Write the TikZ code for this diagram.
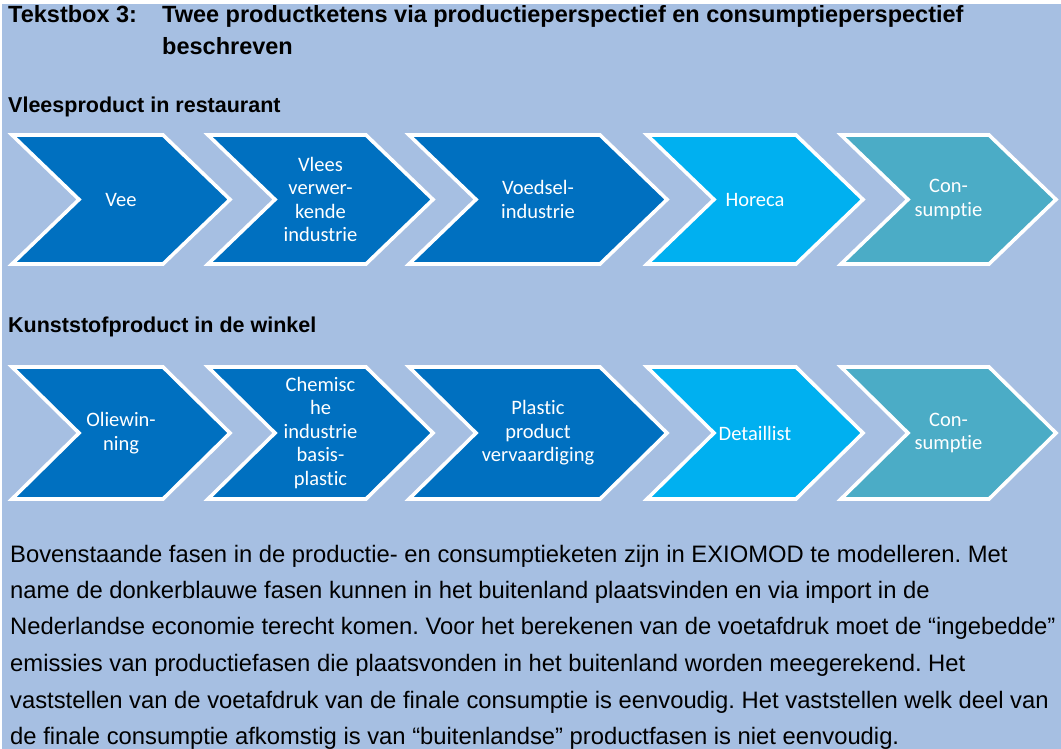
\documentclass[tikz,border=0pt]{standalone}
\usepackage{fontspec}
\setmainfont{Liberation Sans}
\newfontfamily\calfont[Ligatures=NoCommon]{Carlito}
\definecolor{bgblue}{RGB}{166,191,226}
\definecolor{dblue}{RGB}{0,112,192}
\definecolor{lblue}{RGB}{0,176,240}
\definecolor{cteal}{RGB}{75,172,198}
\frenchspacing
\tikzset{
  chevbox/.style={draw=white, line width=3.6pt, line join=miter, miter limit=10},
  chevtext/.style={text=white, align=center, inner sep=0pt,
    font=\calfont\fontsize{20.5}{23.5}\selectfont},
  title/.style={anchor=base west, inner sep=0pt, font=\bfseries\fontsize{23.5}{28}\selectfont},
  heading/.style={anchor=base west, inner sep=0pt, font=\bfseries\fontsize{21.5}{25}\selectfont},
  bodyline/.style={anchor=base west, inner sep=0pt, font=\fontsize{23.8}{28}\selectfont},
}
\newcommand{\mychev}[7]{%
  \path[chevbox, fill=#6] (#2,#4) -- ({#3-67},#4) -- (#3,{(#4+#5)/2}) -- ({#3-67},#5) -- (#2,#5) -- ({#2+67},{(#4+#5)/2}) -- cycle;
  \node[chevtext] (#1) at ({(#2+#3)/2},{(#4+#5)/2}) {#7};
}
\begin{document}
\begin{tikzpicture}[x=1pt,y=-1pt]
  \useasboundingbox (0,0) rectangle (1061,749);
  \fill[white] (0,0) rectangle (1061,749);
  \fill[bgblue] (2,4) rectangle (1061,749);
  % title
  \node[title] (t1) at (8,23) {Tekstbox 3:};
  \node[title] (t2) at (162,23) {Twee productketens via productieperspectief en consumptieperspectief};
  \node[title] (t3) at (162,55) {beschreven};
  \node[heading] (h1) at (8,113) {Vleesproduct in restaurant};
  \node[heading] (h2) at (8,332) {Kunststofproduct in de winkel};
  % row 1
  \mychev{a1}{12}{230}{135}{264}{dblue}{Vee}
  \mychev{a2}{208}{433}{135}{264}{dblue}{Vlees\\verwer-\\kende\\industrie}
  \mychev{a3}{409}{667}{135}{264}{dblue}{Voedsel-\\industrie}
  \mychev{a4}{647}{863}{135}{264}{lblue}{Horeca}
  \mychev{a5}{841}{1056}{135}{264}{cteal}{Con-\\sumptie}
  % row 2
  \mychev{b1}{12}{230}{367}{499}{dblue}{Oliewin-\\ning}
  \mychev{b2}{208}{433}{367}{499}{dblue}{Chemisc\\he\\industrie\\basis-\\plastic}
  \mychev{b3}{409}{667}{367}{499}{dblue}{Plastic\\product\\vervaardiging}
  \mychev{b4}{647}{863}{367}{499}{lblue}{Detaillist}
  \mychev{b5}{841}{1056}{367}{499}{cteal}{Con-\\sumptie}
  % paragraph
  \node[bodyline] (p1) at (10,562) {Bovenstaande fasen in de productie- en consumptieketen zijn in EXIOMOD te modelleren. Met};
  \node[bodyline] (p2) at (10,598) {name de donkerblauwe fasen kunnen in het buitenland plaatsvinden en via import in de};
  \node[bodyline] (p3) at (10,634) {Nederlandse economie terecht komen. Voor het berekenen van de voetafdruk moet de “ingebedde”};
  \node[bodyline] (p4) at (10,671) {emissies van productiefasen die plaatsvonden in het buitenland worden meegerekend. Het};
  \node[bodyline] (p5) at (10,708) {vaststellen van de voetafdruk van de finale consumptie is eenvoudig. Het vaststellen welk deel van};
  \node[bodyline] (p6) at (10,744) {de finale consumptie afkomstig is van “buitenlandse” productfasen is niet eenvoudig.};
\end{tikzpicture}
\end{document}
